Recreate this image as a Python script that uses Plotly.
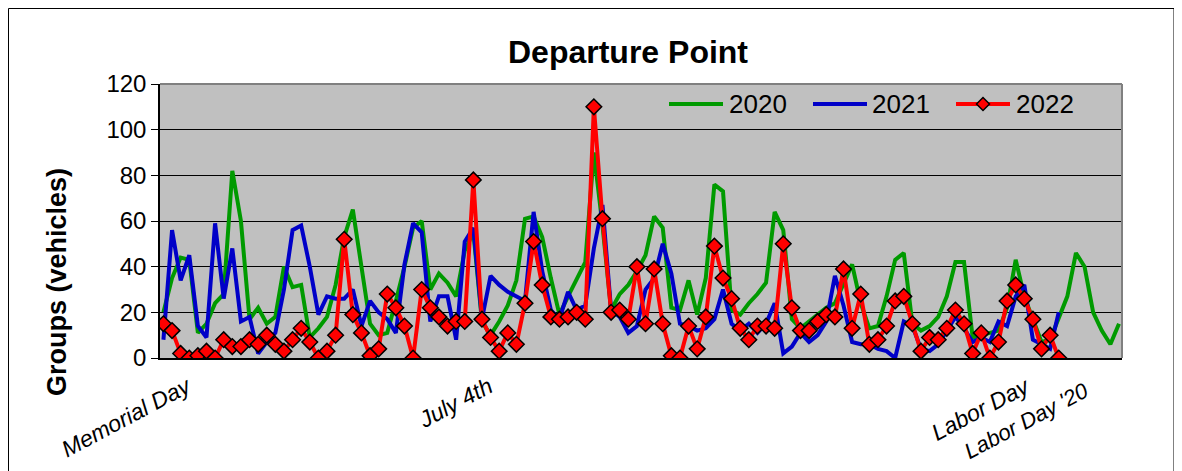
import plotly.graph_objects as go

# ---- data ----
series_names = ["2020", "2021", "2022"]
series_colors = ["#009A00", "#0000C8", "#FF0000"]

g2020 = [20, 35, 44, 43, 11, 15, 24, 28, 82, 60,
         17, 22, 15, 18, 40, 31, 32, 9, 13, 18,
         32, 53, 65, 40, 15, 10, 11, 25, 40, 57,
         60, 30, 37, 33, 27, 47, 55, 16, 10, 16,
         23, 34, 61, 62, 53, 35, 19, 27, 35, 42,
         90, 58, 21, 28, 32, 38, 45, 62, 57, 22,
         21, 34, 19, 35, 76, 73, 21, 19, 24, 28,
         33, 64, 56, 17, 13, 16, 19, 22, 24, 33,
         41, 24, 13, 14, 27, 43, 46, 15, 12, 14,
         18, 27, 42, 42, 9, 10, 11, 12, 22, 43,
         27, 17, 7, 8, 17, 27, 46, 40, 20, 12,
         6, 15]

b2021 = [8, 56, 34, 45, 14, 9, 59, 26, 48, 16,
         18, 2, 7, 11, 30, 56, 58, 40, 19, 27,
         26, 26, 30, 14, 25, 20, 17, 11, 41, 59,
         55, 16, 27, 27, 8, 51, 57, 17, 36, 32,
         29, 27, 25, 64, 38, 21, 17, 29, 21, 23,
         48, 67, 21, 18, 11, 14, 30, 35, 50, 37,
         15, 14, 12, 13, 17, 30, 15, 12, 15, 11,
         15, 24, 2, 5, 11, 7, 10, 16, 36, 23,
         7, 6, 6, 4, 3, 0, 16, 14, 4, 3,
         6, 12, 18, 13, 7, 9, 7, 16, 14, 27,
         32, 8, 6, 4, 20]

r2022 = [15, 12, 2, 0, 1, 3, 0, 8, 5, 5,
         8, 6, 10, 6, 3, 8, 13, 7, 0, 3,
         10, 52, 19, 11, 1, 4, 28, 22, 14, 0,
         30, 22, 18, 14, 16, 16, 78, 17, 9, 3,
         11, 6, 24, 51, 32, 18, 17, 18, 20, 17,
         110, 61, 20, 21, 17, 40, 15, 39, 15, 1,
         0, 14, 4, 18, 49, 35, 26, 13, 8, 14,
         14, 13, 50, 22, 12, 12, 16, 19, 18, 39,
         13, 28, 6, 8, 14, 25, 27, 15, 3, 9,
         8, 13, 21, 15, 2, 11, 0, 7, 25, 32,
         26, 17, 4, 10, 0]

# holiday labels on the day axis (day index, label)
holiday_idx = [3, 38, 101, 107]
holiday_labels = ["Memorial Day", "July 4th", "Labor Day", "Labor Day '20"]

y_ticks = [0, 20, 40, 60, 80, 100, 120]

# ---- figure geometry (page has an 8px body margin) ----
OFF = 8
W, H = 1174, 463
ML, MT = 160 - OFF, 84 - OFF
PW, PH = 962, 274
MR, MB = W - ML - PW, H - MT - PH


def px(xpage):
    return (xpage - OFF - ML) / PW


def py(ypage):
    return (H - MB - (ypage - OFF)) / PH


FONT = "Liberation Sans, Arial, sans-serif"

fig = go.Figure()
for name, col, vals in zip(series_names, series_colors, [g2020, b2021, r2022]):
    if name == "2022":
        fig.add_trace(go.Scatter(
            x=list(range(len(vals))), y=vals, name=name, mode="lines+markers",
            line=dict(color=col, width=4),
            marker=dict(symbol="diamond", size=12, color=col,
                        line=dict(color="black", width=1.5)),
            showlegend=False))
    else:
        fig.add_trace(go.Scatter(
            x=list(range(len(vals))), y=vals, name=name, mode="lines",
            line=dict(color=col, width=4), showlegend=False))

annotations = []
shifts = [(8, 0, 23), (7, 0, 23), (3, 0, 23), (10, -5, 22)]
for idx, lab, (dx, dy, fs) in zip(holiday_idx, holiday_labels, shifts):
    annotations.append(dict(
        x=idx, y=0, xref="x", yref="paper", text=lab, showarrow=False,
        xanchor="right", yanchor="top", textangle=-28, borderpad=0,
        xshift=dx, yshift=-13 + dy,
        font=dict(family=FONT, size=fs, color="black", style="italic")))

# y-axis title placed as in the reference
annotations.append(dict(
    x=px(57), y=py(282), xref="paper", yref="paper",
    text="<b>Groups (vehicles)</b>", showarrow=False, textangle=-90,
    xanchor="center", yanchor="middle",
    font=dict(family=FONT, size=27, color="black")))

# custom legend (long line samples as in the reference)
leg_y = 104
leg = [(669, 723, 727), (813, 867, 870), (956, 1010, 1014)]
shapes = []
for (x0, x1, xt), name, col in zip(leg, series_names, series_colors):
    shapes.append(dict(type="line", xref="paper", yref="paper",
                       x0=px(x0), x1=px(x1), y0=py(leg_y), y1=py(leg_y),
                       line=dict(color=col, width=4)))
    annotations.append(dict(x=px(xt), y=py(leg_y), xref="paper", yref="paper",
                            text=name, showarrow=False, xanchor="left",
                            yanchor="middle",
                            font=dict(family=FONT, size=26, color="black")))
# legend diamond for 2022
cx, cy, r = 983, leg_y, 6.5
shapes.append(dict(type="path", xref="paper", yref="paper",
                   path="M {a},{b} L {c},{d} L {e},{f} L {g},{h} Z".format(
                       a=px(cx - r), b=py(cy), c=px(cx), d=py(cy - r),
                       e=px(cx + r), f=py(cy), g=px(cx), h=py(cy + r)),
                   fillcolor="#FF0000", line=dict(color="black", width=1.5)))

# plot area top/right border (gray)
shapes.append(dict(type="line", xref="paper", yref="paper", x0=0, x1=1, y0=1, y1=1,
                   line=dict(color="#808080", width=2)))
shapes.append(dict(type="line", xref="paper", yref="paper", x0=1, x1=1, y0=0, y1=1,
                   line=dict(color="#808080", width=2)))
# chart-area border
shapes.append(dict(type="rect", xref="paper", yref="paper",
                   x0=px(8.5), x1=px(1174), y0=py(8.5), y1=py(500),
                   line=dict(color="black", width=1)))

fig.update_layout(
    width=W, height=H, autosize=False,
    margin=dict(l=ML, r=MR, t=MT, b=MB),
    paper_bgcolor="white", plot_bgcolor="#C0C0C0",
    font=dict(family=FONT, color="black"),
    title=dict(text="<b>Departure Point</b>", x=(628 - OFF) / W,
               xref="container", xanchor="center",
               y=1 - (52 - OFF) / H, yref="container", yanchor="middle",
               font=dict(family=FONT, size=32, color="black")),
    xaxis=dict(range=[-0.4, 111.35], showgrid=False, zeroline=False,
               showticklabels=False, ticks="", showline=True,
               linecolor="black", linewidth=1.5),
    yaxis=dict(range=[0, 120], tickvals=y_ticks, showgrid=True,
               gridcolor="black", gridwidth=1.3, zeroline=False,
               showline=True, linecolor="black", linewidth=1.5,
               ticks="outside", ticklen=7, tickcolor="black", tickwidth=1.3,
               tickfont=dict(family=FONT, size=24, color="black")),
    annotations=annotations,
    shapes=shapes,
)

fig.write_html("out.html")
